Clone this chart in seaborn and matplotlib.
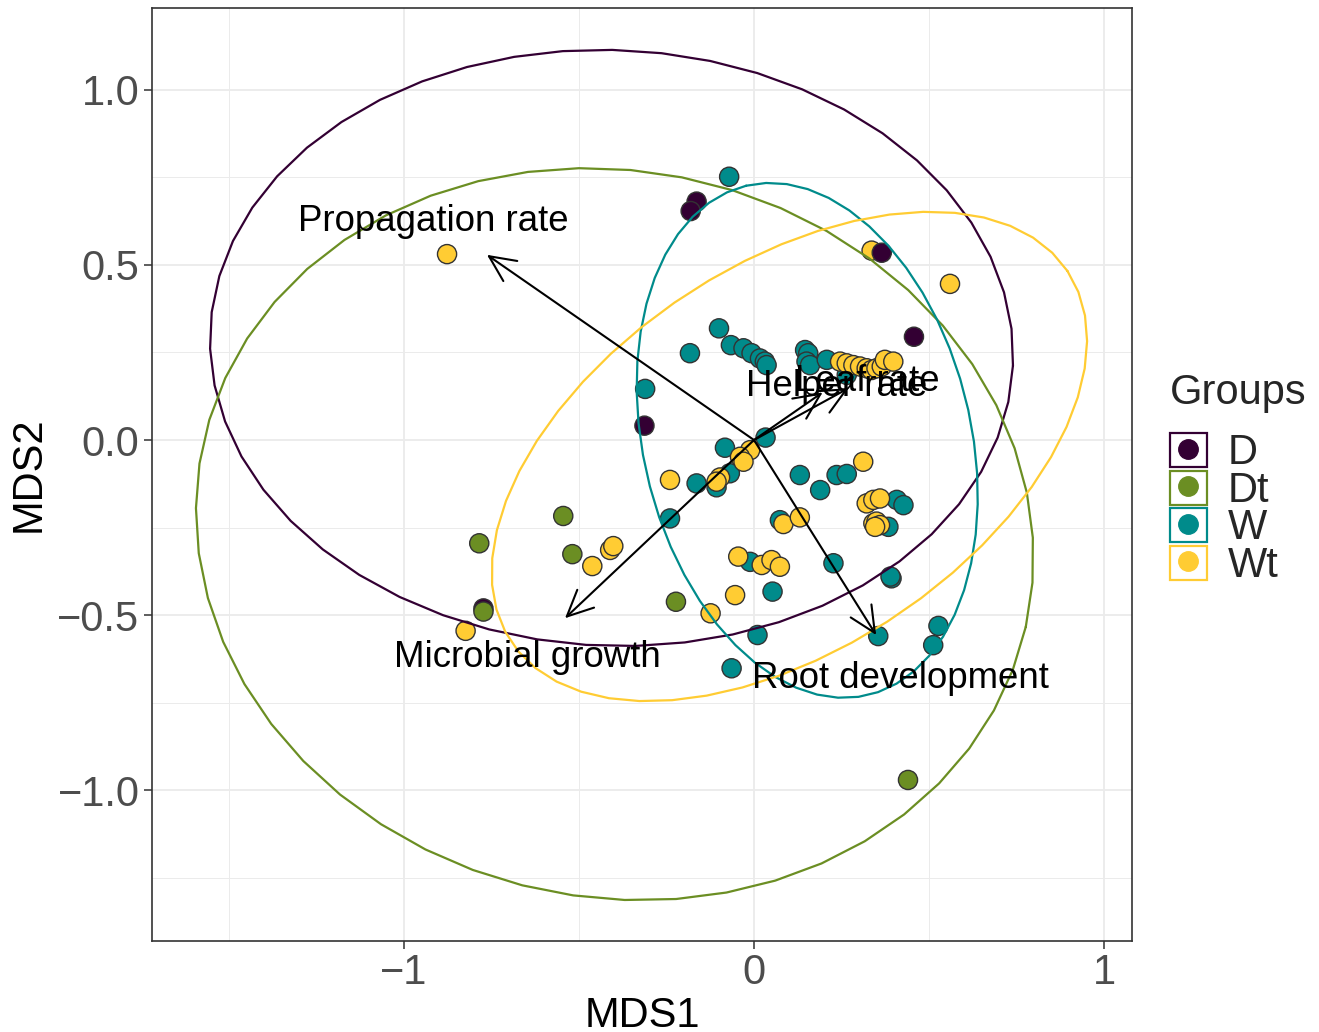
import numpy as np
import pandas as pd
import matplotlib
matplotlib.use("Agg")
import matplotlib.pyplot as plt
import seaborn as sns
from matplotlib.lines import Line2D
from matplotlib.patches import Rectangle
from matplotlib.legend_handler import HandlerTuple

# ---------------- data ----------------
groups = ["D", "Dt", "W", "Wt"]
palette = {"D": "#330033", "Dt": "#6B8E23", "W": "#008B8B", "Wt": "#FFCC33"}

w_x = [-0.071, -0.100, -0.066, -0.030, -0.007, 0.017, 0.031, 0.036, -0.183, -0.311,
       0.146, 0.155, 0.150, 0.160, 0.208, 0.265, 0.033, -0.083, -0.069, -0.107,
       -0.164, -0.240, 0.131, 0.189, 0.236, 0.265, 0.408, 0.427, 0.384, 0.074,
       -0.011, 0.227, 0.393, 0.390, 0.053, 0.010, 0.355, 0.527, 0.512, -0.064]
w_y = [0.752, 0.319, 0.271, 0.262, 0.248, 0.233, 0.224, 0.214, 0.248, 0.146,
       0.257, 0.248, 0.224, 0.214, 0.229, 0.186, 0.007, -0.022, -0.095, -0.135,
       -0.124, -0.224, -0.100, -0.143, -0.100, -0.097, -0.171, -0.186, -0.248, -0.229,
       -0.348, -0.352, -0.395, -0.390, -0.433, -0.557, -0.560, -0.531, -0.586, -0.652]

wt_x = [-0.877, 0.336, 0.560, 0.246, 0.265, 0.284, 0.303, 0.322, 0.336, 0.350,
        0.365, 0.374, 0.398, -0.011, -0.040, -0.030, -0.097, -0.107, -0.240, 0.312,
        0.322, 0.341, 0.360, 0.341, 0.350, 0.360, 0.346, 0.084, 0.131, -0.045,
        0.022, 0.050, 0.074, -0.054, -0.124, -0.462, -0.411, -0.402, -0.824]
wt_y = [0.531, 0.541, 0.446, 0.224, 0.219, 0.214, 0.210, 0.205, 0.200, 0.205,
        0.210, 0.229, 0.224, -0.029, -0.048, -0.062, -0.107, -0.119, -0.114, -0.062,
        -0.181, -0.171, -0.167, -0.238, -0.233, -0.243, -0.248, -0.240, -0.221, -0.333,
        -0.357, -0.343, -0.362, -0.443, -0.495, -0.360, -0.314, -0.303, -0.545]

d_x = [-0.164, -0.181, 0.365, 0.457, -0.313, -0.773]
d_y = [0.681, 0.654, 0.535, 0.295, 0.041, -0.481]

dt_x = [-0.545, -0.785, -0.519, -0.773, -0.223, 0.440]
dt_y = [-0.217, -0.295, -0.326, -0.490, -0.462, -0.971]

# 95% ellipses per group (centre, semi-axes, rotation in degrees)
ell_group = ["D", "Dt", "W", "Wt"]
ell_cx = [-0.407, -0.398, 0.152, 0.101]
ell_cy = [0.263, -0.269, -0.001, -0.047]
ell_a = [1.148, 1.204, 0.748, 0.955]
ell_b = [0.851, 1.037, 0.468, 0.548]
ell_angle = [-2.5, -12.7, 103.5, 33.7]

# fitted vectors (arrow tips)
vec_names = ["Propagation rate", "Microbial growth", "Root development", "Helper rate", "Leaf rate"]
vec_x = [-0.763, -0.540, 0.349, 0.196, 0.270]
vec_y = [0.529, -0.509, -0.557, 0.136, 0.148]

x_ticks = [-1, 0, 1]
x_ticklabels = ["\u22121", "0", "1"]
y_ticks = [-1.0, -0.5, 0.0, 0.5, 1.0]
y_ticklabels = ["\u22121.0", "\u22120.5", "0.0", "0.5", "1.0"]

# ---------------- frame ----------------
df = pd.concat([
    pd.DataFrame({"MDS1": w_x, "MDS2": w_y, "Groups": "W"}),
    pd.DataFrame({"MDS1": wt_x, "MDS2": wt_y, "Groups": "Wt"}),
    pd.DataFrame({"MDS1": d_x, "MDS2": d_y, "Groups": "D"}),
    pd.DataFrame({"MDS1": dt_x, "MDS2": dt_y, "Groups": "Dt"}),
], ignore_index=True)

sns.set_theme(style="white")
plt.rcParams["font.family"] = ["Liberation Sans", "DejaVu Sans"]
plt.rcParams["axes.unicode_minus"] = True

fig = plt.figure(figsize=(13.19, 10.32), dpi=100)
ax = fig.add_axes([152 / 1319, 91 / 1032, 980 / 1319, 933 / 1032])

sns.scatterplot(data=df, x="MDS1", y="MDS2", hue="Groups", palette=palette,
                s=190, edgecolor="#333333", linewidth=1.0, legend=False, ax=ax, zorder=2)

t = np.linspace(0, 2 * np.pi, 52)
for g, cx, cy, a, b, ang in zip(ell_group, ell_cx, ell_cy, ell_a, ell_b, ell_angle):
    th = np.deg2rad(ang)
    ex = cx + a * np.cos(t) * np.cos(th) - b * np.sin(t) * np.sin(th)
    ey = cy + a * np.cos(t) * np.sin(th) + b * np.sin(t) * np.cos(th)
    ax.plot(ex, ey, color=palette[g], lw=1.6, zorder=3)

for name, vx, vy in zip(vec_names, vec_x, vec_y):
    ax.annotate("", xy=(vx, vy), xytext=(0, 0),
                arrowprops=dict(arrowstyle="->,head_length=0.85,head_width=0.4",
                                color="black", lw=1.5, shrinkA=0, shrinkB=0,
                                mutation_scale=22), zorder=4)
    ax.text(vx * 1.2, vy * 1.2, name, ha="center", va="center_baseline",
            fontsize=26.4, color="black", zorder=5)

ax.set_xlim(-1.72, 1.08)
ax.set_ylim(-1.431, 1.234)
ax.set_xticks(x_ticks)
ax.set_xticklabels(x_ticklabels)
ax.set_yticks(y_ticks)
ax.set_yticklabels(y_ticklabels)
ax.set_xticks([-1.5, -0.5, 0.5], minor=True)
ax.set_yticks([-1.25, -0.75, -0.25, 0.25, 0.75], minor=True)
ax.tick_params(which="major", direction="out", length=6, width=1.1, color="#333333",
               labelsize=30, labelcolor="#4D4D4D", pad=3, bottom=True, left=True)
ax.tick_params(which="minor", length=0)
ax.grid(which="major", color="#EBEBEB", lw=1.3)
ax.grid(which="minor", color="#EBEBEB", lw=0.7)
ax.set_axisbelow(True)
for sp in ax.spines.values():
    sp.set_color("#333333")
    sp.set_linewidth(1.2)

ax.set_xlabel("MDS1", fontsize=30, color="black", labelpad=2)
ax.set_ylabel("MDS2", fontsize=30, color="black", labelpad=6)

# legend
fig.text(1170 / 1319, 1 - 404 / 1032, "Groups", fontsize=30, ha="left", va="baseline")
handles = []
for g in groups:
    box = Rectangle((0, 0), 1, 1, facecolor="white", edgecolor=palette[g], lw=1.6)
    dot = Line2D([], [], linestyle="none", marker="o", markersize=14,
                 markerfacecolor=palette[g], markeredgecolor=palette[g])
    handles.append((box, dot))


def make_legend(spacing):
    return fig.legend(handles, groups, handler_map={tuple: HandlerTuple(ndivide=1, pad=0)},
                      fontsize=30, frameon=False,
                      loc="upper left", bbox_to_anchor=(1170 / 1319, 1 - 433 / 1032),
                      handlelength=0.88, handleheight=0.88, handletextpad=0.5,
                      labelspacing=spacing, borderpad=0, borderaxespad=0)


leg = make_legend(-0.22)
fig.canvas.draw()
r = fig.canvas.get_renderer()
ys = [tx.get_window_extent(r).y0 for tx in leg.get_texts()]
pitch = abs(ys[0] - ys[1])
new_sp = -0.22 + (37.5 - pitch) / (30 * 100 / 72)
leg.remove()
leg = make_legend(new_sp)

fig.savefig("out.png", dpi=100)
